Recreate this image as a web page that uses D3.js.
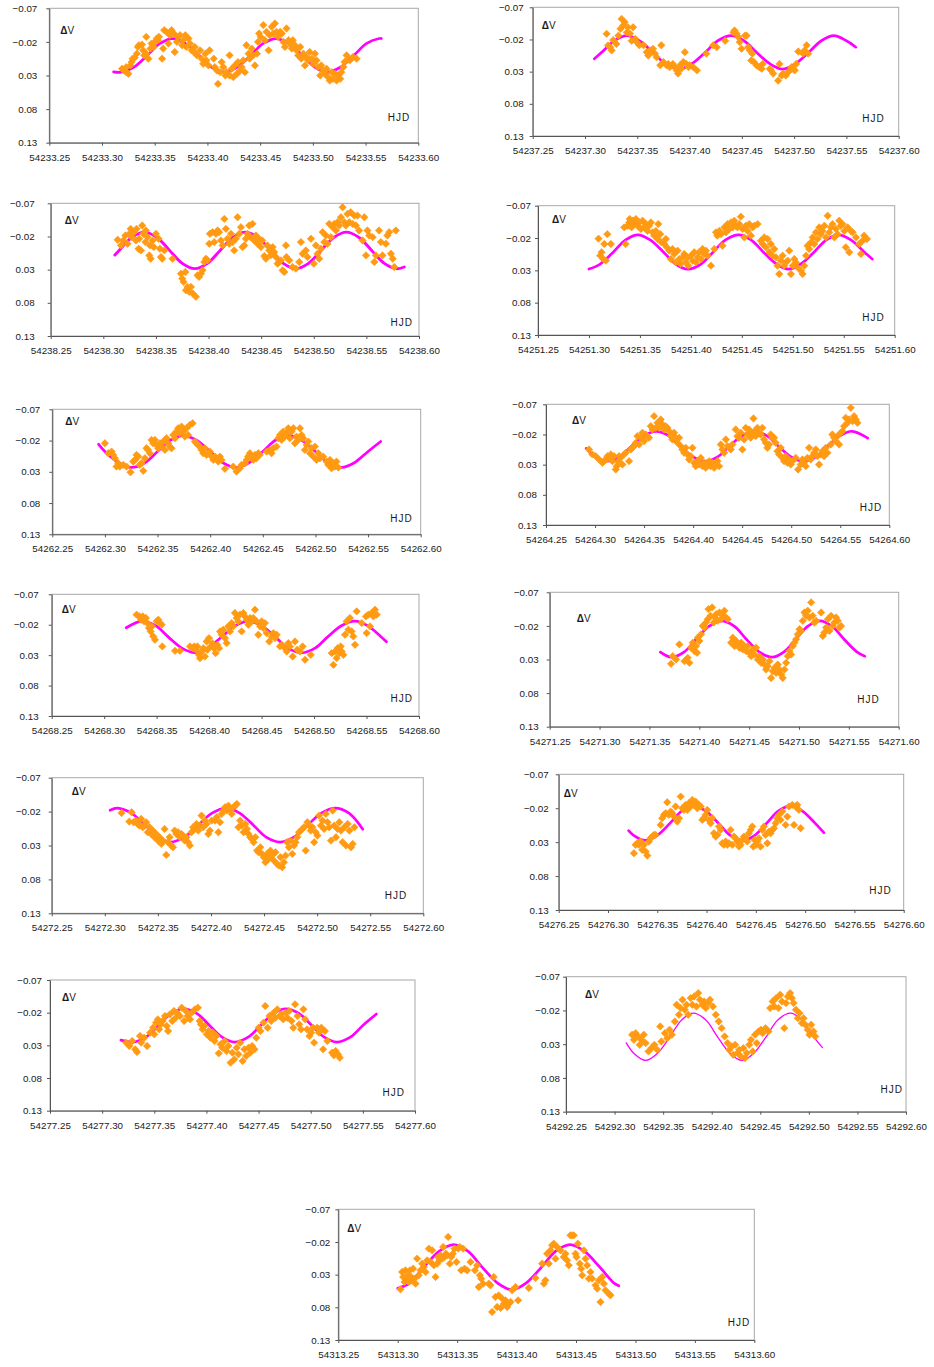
<!DOCTYPE html>
<html><head><meta charset="utf-8">
<script src="https://cdn.jsdelivr.net/npm/d3@7"></script>
<style>body{margin:0;background:#fff}svg{display:block}text{font-family:"Liberation Sans",Arial,sans-serif}</style>
</head><body><svg id="c" width="934" height="1367"></svg>
<script>
const days=[54233,54237,54238,54251,54262,54264,54268,54271,54272,54276,54277,54292,54313];
const xTicks=[0.25,0.30,0.35,0.40,0.45,0.50,0.55,0.60];
const yTicks=[-0.07,-0.02,0.03,0.08,0.13];

const fit1=[[.311,.0245],[.318,.025],[.330,.0177],[.343,0],[.355,-.0177],[.367,-.025],[.379,-.0177],[.392,0],[.404,.0177],[.416,.025],[.428,.0177],[.441,0],[.453,-.0177],[.465,-.025],[.477,-.0177],[.490,0],[.502,.0177],[.514,.025],[.526,.0177],[.539,0],[.551,-.0177],[.563,-.025],[.565,-.025]];
const fit2=[[.309,.010],[.316,0],[.328,-.018],[.340,-.026],[.352,-.018],[.365,0],[.377,.018],[.390,.026],[.402,.018],[.415,0],[.427,-.018],[.440,-.026],[.452,-.018],[.464,0],[.477,.018],[.489,.026],[.501,.018],[.514,0],[.526,-.018],[.538,-.026],[.550,-.018],[.559,-.008]];
const fit3=[[.311,.008],[.315,.001],[.327,-.0185],[.339,-.0265],[.351,-.0185],[.363,.001],[.375,.0205],[.387,.0285],[.399,.0205],[.411,.001],[.423,-.0185],[.435,-.0265],[.447,-.0185],[.459,.001],[.471,.0205],[.483,.0285],[.495,.0205],[.507,.001],[.519,-.0185],[.531,-.0265],[.543,-.0185],[.555,.001],[.567,.0205],[.579,.0285],[.586,.026]];
const fit4=[[.300,.028],[.311,.0202],[.324,.0015],[.336,-.0172],[.348,-.025],[.360,-.0172],[.373,.0015],[.385,.0202],[.397,.028],[.410,.0202],[.422,.0015],[.434,-.0172],[.447,-.025],[.459,-.0172],[.471,.0015],[.484,.0202],[.496,.028],[.508,.0202],[.521,.0015],[.533,-.0172],[.545,-.025],[.557,-.0172],[.570,.0015],[.578,.0125]];
const fit5=[[.294,-.014],[.300,-.0025],[.313,.0155],[.325,.023],[.338,.0155],[.350,-.0025],[.362,-.0205],[.375,-.028],[.387,-.0205],[.400,-.0025],[.412,.0155],[.425,.023],[.437,.0155],[.450,-.0025],[.462,-.0205],[.475,-.028],[.487,-.0205],[.500,-.0025],[.512,.0155],[.525,.023],[.537,.0155],[.550,-.0025],[.562,-.0185]];
const fit6=[[.291,.003],[.300,.017],[.312,.0243],[.325,.017],[.337,-.0005],[.350,-.018],[.362,-.0253],[.375,-.018],[.387,-.0005],[.400,.017],[.412,.0243],[.425,.017],[.437,-.0005],[.450,-.018],[.462,-.0253],[.475,-.018],[.487,-.0005],[.500,.017],[.512,.0243],[.525,.017],[.537,-.0005],[.550,-.018],[.562,-.0253],[.578,-.014]];
const fit7=[[.321,-.015],[.336,-.026],[.349,-.0184],[.361,0],[.374,.0184],[.387,.026],[.399,.0184],[.412,0],[.425,-.0184],[.437,-.026],[.450,-.0184],[.463,0],[.475,.0184],[.488,.026],[.501,.0184],[.513,0],[.526,-.0184],[.539,-.026],[.551,-.0184],[.564,0],[.569,.008]];
const fit8=[[.361,.019],[.372,.0265],[.385,.0186],[.397,-.0005],[.410,-.0196],[.422,-.0275],[.435,-.0196],[.447,-.0005],[.460,.0186],[.473,.0265],[.485,.0186],[.497,-.0005],[.509,-.0196],[.521,-.0275],[.533,-.0196],[.545,-.0005],[.558,.0186],[.566,.025]];
const fit9=[[.305,-.022],[.312,-.025],[.325,-.0177],[.338,0],[.350,.0177],[.362,.025],[.375,.0177],[.388,0],[.401,-.0177],[.415,-.025],[.427,-.0177],[.440,0],[.452,.0177],[.465,.025],[.478,.0177],[.491,0],[.504,-.0177],[.517,-.025],[.530,-.0177],[.543,.006]];
const fit10=[[.321,.013],[.326,.020],[.338,.0275],[.350,.020],[.363,.002],[.375,-.016],[.387,-.0235],[.399,-.016],[.412,.002],[.424,.020],[.437,.0275],[.449,.020],[.461,.002],[.473,-.016],[.485,-.0235],[.497,-.016],[.510,.002],[.519,.016]];
const fit11=[[.318,.022],[.330,.025],[.342,.0175],[.354,-.0005],[.366,-.0185],[.378,-.026],[.391,-.0185],[.403,-.0005],[.415,.0175],[.427,.025],[.440,.0175],[.452,-.0005],[.464,-.0185],[.476,-.026],[.489,-.0185],[.501,-.0005],[.513,.0175],[.525,.025],[.538,.0175],[.550,-.0005],[.563,-.018]];
const fit12=[[.312,.028],[.320,.0437],[.332,.054],[.344,.0437],[.357,.019],[.369,-.0058],[.381,-.016],[.394,-.0058],[.406,.019],[.419,.0437],[.431,.054],[.443,.0437],[.456,.019],[.468,-.0058],[.481,-.016],[.493,-.0058],[.505,.019],[.514,.035]];
const fit13=[[.300,.051],[.310,.043],[.322,.0185],[.335,-.0059],[.347,-.016],[.359,-.0059],[.371,.0185],[.384,.0429],[.396,.053],[.408,.0429],[.421,.0185],[.433,-.0059],[.445,-.016],[.457,-.0059],[.470,.0185],[.482,.0429],[.486,.047]];

const pts1=[[.319,.020],[.321,.0225],[.323,.025],[.325,.0275],[.323,.0175],[.327,.015],[.328,.010],[.329,.005],[.331,.0035],[.333,-.0025],[.334,-.0125],[.335,-.015],[.338,-.016],[.339,-.0075],[.340,0],[.342,-.0025],[.342,-.0275],[.344,.005],[.346,-.010],[.347,-.0175],[.349,-.0125],[.350,-.020],[.352,-.025],[.353,-.0225],[.354,-.0275],[.357,.005],[.358,-.010],[.359,-.0375],[.361,-.035],[.363,-.0175],[.3645,-.030],[.366,-.0375],[.368,-.0325],[.369,-.005],[.371,-.020],[.372,-.0275],[.374,-.030],[.376,-.015],[.377,-.0225],[.379,-.030],[.380,-.0125],[.382,-.025],[.3835,-.0175],[.385,-.0075],[.387,-.005],[.388,-.0125],[.390,0],[.393,-.0075],[.3945,.005],[.396,.0125],[.398,-.0025],[.399,.0075],[.401,.015],[.402,-.0075],[.406,.005],[.407,.0175],[.409,.0225],[.410,.0425],[.412,.025],[.4135,.010],[.415,.0175],[.417,.030],[.418,.025],[.421,0],[.421,.030],[.423,.020],[.4245,.0325],[.426,.015],[.428,.0275],[.429,.010],[.431,.0225],[.4325,.0175],[.434,.0075],[.4355,.025],[.437,-.015],[.439,-.0025],[.440,.005],[.442,-.010],[.4435,0],[.445,.015],[.447,-.0025],[.448,-.020],[.449,-.0325],[.4505,-.0275],[.453,-.045],[.4545,-.0225],[.456,-.035],[.458,-.0075],[.459,-.030],[.461,-.0425],[.4625,-.0325],[.464,-.0475],[.4655,-.035],[.467,-.0275],[.469,-.035],[.4705,-.0325],[.472,-.020],[.4735,-.0125],[.475,-.040],[.477,-.0225],[.478,-.0175],[.480,-.010],[.481,-.0225],[.483,-.015],[.4845,-.0075],[.486,0],[.488,-.0125],[.489,.005],[.491,-.0025],[.4925,.015],[.494,.0025],[.4955,.0075],[.497,-.005],[.499,.005],[.5005,.0125],[.502,-.0025],[.5035,.0075],[.505,.0175],[.507,.030],[.508,.015],[.510,.0225],[.5115,.0275],[.513,.020],[.5145,.0325],[.516,.0375],[.518,.025],[.519,.035],[.521,.0275],[.5225,.0375],[.524,.030],[.526,.035],[.527,.025],[.529,.0175],[.530,.010],[.532,0],[.5335,.005],[.535,.0075],[.538,.0025],[.5415,.005]];
const pts2=[[.3207,-.0288],[.322,-.0107],[.324,-.008],[.3255,-.003],[.327,-.019],[.330,-.013],[.332,-.026],[.334,-.0366],[.335,-.052],[.3366,-.042],[.338,-.047],[.340,-.031],[.341,-.039],[.343,-.029],[.3446,-.018],[.346,-.039],[.348,-.021],[.3494,-.016],[.352,-.011],[.356,-.011],[.359,-.0003],[.3605,.005],[.362,-.003],[.3637,-.0003],[.365,-.0055],[.367,.002],[.3685,.0075],[.372,.020],[.373,-.011],[.375,.015],[.378,.020],[.3796,.018],[.381,.023],[.384,.018],[.386,.023],[.3876,.028],[.389,.033],[.391,.020],[.392,.0256],[.394,.015],[.3955,-.0003],[.397,.018],[.399,.023],[.400,.020],[.4035,.023],[.407,.028],[.416,.002],[.4226,-.011],[.426,-.008],[.434,-.018],[.442,-.031],[.443,-.034],[.445,-.029],[.4465,-.024],[.448,-.016],[.4497,-.0055],[.453,-.026],[.4545,-.026],[.456,-.008],[.4576,-.003],[.459,.0126],[.460,.002],[.4615,.015],[.464,.020],[.4666,.023],[.469,.0256],[.470,.018],[.4767,.0256],[.478,.028],[.480,.033],[.4847,.044],[.486,.018],[.488,.036],[.4895,.033],[.492,.036],[.494,.031],[.496,.028],[.4975,.023],[.499,.0256],[.5006,.028],[.502,.018],[.504,-.0013],[.5086,.002],[.510,-.003],[.512,-.011],[.5134,.002]];
const pts3=[[.3136,-.015],[.3167,-.0065],[.319,-.014],[.321,-.0215],[.323,-.009],[.3247,-.024],[.326,-.0315],[.327,-.019],[.3294,-.0265],[.331,-.014],[.3316,-.0315],[.3335,-.0015],[.334,-.0165],[.3357,.001],[.337,-.0365],[.338,-.024],[.340,-.0115],[.3405,-.029],[.342,-.019],[.3437,.0085],[.3443,-.0065],[.345,.0135],[.3468,-.014],[.348,-.004],[.350,-.024],[.3525,-.0165],[.3538,-.0015],[.3548,.011],[.356,.0135],[.358,.001],[.3658,.0135],[.3738,.036],[.375,.0435],[.3763,.0485],[.378,.0335],[.3785,.061],[.380,.056],[.3817,.0635],[.3833,.056],[.385,.066],[.388,.071],[.3896,.0385],[.391,.041],[.3928,.036],[.3943,.031],[.396,.0185],[.3975,.0135],[.399,.016],[.4007,-.009],[.4013,-.024],[.4038,-.0265],[.4054,-.0115],[.407,-.024],[.4086,-.029],[.410,-.0265],[.4118,-.014],[.4134,-.0065],[.415,-.0465],[.4165,-.0315],[.418,-.0165],[.4197,-.009],[.4213,-.024],[.4229,-.0115],[.4244,.001],[.426,-.0165],[.4276,-.049],[.4292,-.024],[.4308,-.034],[.4323,-.004],[.434,-.0065],[.4355,-.0165],[.437,-.024],[.4387,-.0365],[.440,-.019],[.4418,-.039],[.4434,-.014],[.445,-.0215],[.4466,-.009],[.448,-.0165],[.4498,-.004],[.451,-.014],[.453,.0095],[.4545,.0135],[.456,-.0065],[.4577,.001],[.459,.0085],[.461,-.004],[.4624,.0035],[.464,.011],[.4656,.021],[.467,.0185],[.4688,.016],[.4704,.031],[.472,.0335],[.4735,-.0065],[.474,.011],[.4767,.016],[.4798,.026],[.483,.0285],[.4862,.0185],[.4878,-.0115],[.4894,.006],[.4925,.001],[.494,.011],[.4973,-.0165],[.500,.021],[.502,-.0065],[.5036,.006],[.5052,.0135],[.5068,-.0015],[.5084,-.0265],[.510,-.0115],[.5115,-.0215],[.513,-.009],[.5147,-.039],[.5163,-.019],[.5179,-.034],[.5195,-.039],[.521,-.029],[.5226,-.0415],[.5242,-.0365],[.5258,-.049],[.5274,-.064],[.529,-.0415],[.5305,-.0365],[.532,-.054],[.5337,-.0415],[.535,-.0565],[.5369,-.039],[.5385,-.0515],[.540,-.0365],[.5416,-.0515],[.543,-.029],[.5464,-.014],[.548,-.049],[.5496,.0085],[.551,-.029],[.5527,-.0215],[.556,-.019],[.5575,.0185],[.559,.0085],[.562,-.029],[.5638,-.0115],[.5653,.0085],[.5685,-.009],[.570,-.0215],[.5717,-.0265],[.5733,.006],[.575,.0135],[.5765,.026],[.578,-.029]];
const pts4=[[.3094,-.019],[.311,.0073],[.3124,.002],[.314,.0125],[.315,-.0107],[.3166,.015],[.318,-.026],[.3215,-.0107],[.3346,-.0365],[.336,-.0107],[.3379,-.039],[.3395,-.0442],[.340,-.0494],[.3418,-.0365],[.3428,-.0468],[.3444,-.0416],[.346,-.0494],[.3477,-.039],[.3493,-.0442],[.351,-.034],[.3526,-.0468],[.3542,-.0365],[.356,-.0416],[.3575,-.031],[.359,-.039],[.3608,-.0442],[.3624,-.0288],[.364,-.0236],[.3657,-.031],[.3673,-.0185],[.368,-.0416],[.370,-.026],[.3712,-.0133],[.3739,-.0107],[.3755,-.0185],[.3765,-.0056],[.3788,-.0004],[.3804,.0125],[.382,-.003],[.3837,.0047],[.3853,.0176],[.387,-.0004],[.3886,.0125],[.390,.020],[.3919,.0099],[.3935,.0047],[.395,.0176],[.3968,.0099],[.3974,.0228],[.400,.0073],[.4017,.015],[.4033,.002],[.405,.0176],[.4066,.0099],[.408,.002],[.4099,.0125],[.4115,-.003],[.413,.0047],[.4148,-.0004],[.4164,.0073],[.4197,.0228],[.423,-.003],[.4246,-.0288],[.426,-.0236],[.4279,-.031],[.4295,-.026],[.431,-.0081],[.4328,-.0365],[.4344,-.0288],[.436,-.0416],[.4377,-.034],[.4393,-.0442],[.441,-.0365],[.4426,-.0468],[.444,-.039],[.4458,-.0365],[.4475,-.0416],[.449,-.053],[.4508,-.034],[.4524,-.021],[.454,-.039],[.4557,-.031],[.4573,-.0416],[.459,-.0236],[.4606,-.0365],[.4622,-.039],[.4655,-.0416],[.4687,-.0159],[.4704,-.0107],[.472,-.021],[.4736,-.0056],[.4753,-.0185],[.477,.002],[.4785,-.0107],[.480,.0073],[.4818,-.003],[.4835,.0099],[.485,.0228],[.4867,.0357],[.4884,.015],[.490,.0073],[.4916,.0228],[.4933,.0176],[.495,.015],[.4965,-.0004],[.4982,.0357],[.500,.0228],[.5015,.0125],[.503,.0176],[.5047,.0254],[.508,.0305],[.5096,.0357],[.5113,.0228],[.513,.0073],[.5145,-.0081],[.516,-.003],[.5178,-.0133],[.5195,-.021],[.521,-.0107],[.5227,-.0288],[.5243,-.0185],[.526,-.0365],[.5276,-.026],[.529,-.031],[.531,-.039],[.5325,-.021],[.5342,-.0545],[.5358,-.0288],[.5374,-.0365],[.539,-.0416],[.5407,-.021],[.5423,-.034],[.544,-.026],[.5456,-.0468],[.547,-.039],[.5489,-.0416],[.5505,-.031],[.552,-.0056],[.5538,-.0365],[.5554,.002],[.557,-.031],[.5587,-.0288],[.562,-.021],[.5652,-.0107],[.5669,.0047],[.5685,-.0159],[.570,-.0236],[.5728,-.0185]];
const pts5=[[.300,-.0157],[.3031,.0003],[.3063,-.0024],[.3079,.003],[.3095,.0083],[.311,.0216],[.3126,.0163],[.3142,.0216],[.3174,.019],[.3205,.0216],[.3243,.0307],[.3269,.0136],[.3285,.011],[.330,.003],[.3316,.0056],[.333,.019],[.3348,.0163],[.3364,.0285],[.338,.0083],[.3395,-.0077],[.341,-.005],[.3427,.0003],[.3443,-.021],[.3459,-.0157],[.3475,-.021],[.349,-.013],[.3506,-.0077],[.3522,-.0157],[.354,-.0104],[.3554,-.0184],[.357,-.005],[.3585,-.0237],[.360,-.0157],[.3617,-.0104],[.3633,-.0077],[.3649,-.029],[.3665,-.0237],[.368,-.0344],[.3696,-.0397],[.3712,-.0317],[.3728,-.0424],[.3744,-.0344],[.376,-.0264],[.3776,-.0397],[.379,-.029],[.3807,-.045],[.3833,-.0477],[.3855,-.0184],[.387,-.0157],[.3886,-.013],[.390,-.0104],[.3918,-.005],[.3934,.0003],[.395,-.0077],[.3966,.003],[.3997,-.0024],[.4013,.0056],[.403,.011],[.4045,.0056],[.4061,.0083],[.4077,.0136],[.4092,.0056],[.4108,.011],[.414,.0253],[.4219,.0216],[.425,.0296],[.4282,.0243],[.4298,.019],[.433,.0163],[.4346,.011],[.436,.0056],[.4377,.0003],[.4393,.0056],[.441,.011],[.4425,.003],[.444,.0083],[.4457,.0003],[.447,.003],[.4536,-.0024],[.4567,-.005],[.4583,.0003],[.460,-.0077],[.463,-.0104],[.4647,-.0237],[.4663,-.029],[.4678,-.021],[.4694,-.0344],[.471,-.0264],[.4726,-.0317],[.4742,-.0397],[.4757,-.0237],[.4773,-.0344],[.479,-.0397],[.4805,-.0157],[.482,-.0264],[.4837,-.021],[.4853,-.0397],[.4868,-.029],[.4884,-.0237],[.490,-.005],[.4916,-.013],[.4932,-.0184],[.4948,.0003],[.4963,-.0077],[.4979,.0056],[.4995,-.0104],[.5011,.011],[.5027,.0003],[.5043,.0083],[.5074,.0056],[.5106,.0136],[.5122,.019],[.5138,.011],[.5153,.0243],[.517,.0163],[.5185,.0216],[.520,.0136],[.5217,.0232]];
const pts6=[[.2939,.0049],[.2973,.0131],[.3007,.0159],[.3041,.0214],[.3075,.027],[.3092,.0242],[.311,.0214],[.3126,.0159],[.3143,.0187],[.316,.0131],[.3177,.0242],[.3194,.0159],[.3211,.038],[.3221,.0325],[.3235,.0242],[.3245,.0159],[.3262,.0187],[.3279,.0297],[.3296,.0131],[.3313,.0104],[.3347,.0242],[.3364,.0049],[.338,.0021],[.3398,-.0007],[.3415,-.0062],[.3432,-.0172],[.3449,-.0034],[.3466,-.0145],[.3483,-.0228],[.350,-.009],[.3517,-.02],[.3534,-.0172],[.355,-.0145],[.3568,-.0338],[.3585,-.0283],[.3602,-.0504],[.3619,-.031],[.3636,-.0393],[.3653,-.031],[.367,-.0449],[.3687,-.0366],[.3704,-.0283],[.372,-.0338],[.3738,-.031],[.3755,-.0255],[.3772,-.0172],[.3789,-.0117],[.3806,-.0228],[.3823,-.0145],[.384,-.0062],[.3857,-.0145],[.3874,-.0007],[.389,.0049],[.3908,.0104],[.3925,.0021],[.3942,.0131],[.3959,.0214],[.3976,.0159],[.3993,.0021],[.401,.027],[.4027,.0325],[.4044,.0242],[.406,.0297],[.4078,.0187],[.4095,.0325],[.4112,.027],[.4129,.0352],[.4146,.0297],[.4163,.0242],[.418,.0325],[.4197,.027],[.4214,.0352],[.423,.0297],[.4248,.0242],[.4265,.0325],[.4282,-.0034],[.4299,.0049],[.4316,.0104],[.4333,-.0117],[.435,-.0007],[.4384,.0049],[.440,-.0034],[.4434,-.0283],[.4451,-.0172],[.4468,-.0145],[.4485,-.0228],[.4502,.0049],[.4519,-.0117],[.4536,-.031],[.4553,-.02],[.457,-.0283],[.4587,-.0145],[.4604,-.0228],[.4615,-.0465],[.4628,-.0255],[.4638,-.0172],[.4655,-.031],[.4672,-.0228],[.4689,-.02],[.4706,-.031],[.4723,-.0117],[.474,-.0062],[.4757,.0021],[.4774,-.0034],[.4791,-.02],[.4808,-.0145],[.4825,-.0145],[.4842,-.0062],[.4859,.0076],[.4876,.0131],[.4893,.0021],[.491,.0187],[.4927,.0242],[.4944,.0159],[.4961,.027],[.4978,.0214],[.4995,.0297],[.5012,.0242],[.5046,.0187],[.507,.038],[.5097,.0297],[.5114,.0214],[.513,.027],[.5148,.0325],[.5165,.0187],[.5182,.0021],[.5199,.0214],[.5216,.0159],[.5233,.0104],[.525,.0049],[.5267,.0159],[.5284,.0297],[.530,.0131],[.5318,.0076],[.5335,.0159],[.5352,.0021],[.5369,.0104],[.5403,-.0034],[.542,-.02],[.5437,-.0145],[.5454,-.009],[.5471,-.0172],[.5488,-.0034],[.5505,-.0228],[.5522,-.0255],[.5539,-.0338],[.5556,-.0476],[.5573,-.0393],[.559,-.0449],[.5607,-.0642],[.5624,-.042],[.5641,-.0504],[.5658,-.0449],[.5675,-.0393]];
const pts7=[[.3309,-.0365],[.3335,-.0337],[.3351,-.0282],[.3367,-.0337],[.3379,-.0255],[.3398,-.031],[.3411,-.0227],[.3427,-.0145],[.3443,-.009],[.3456,-.0173],[.3468,-.0008],[.3484,.0047],[.350,-.0255],[.3516,-.0282],[.3532,-.0227],[.3548,-.020],[.3554,.0157],[.3675,.0229],[.3722,.0229],[.3818,.0157],[.3843,.0185],[.3859,.0157],[.3875,.0212],[.3888,.0157],[.3903,.0295],[.3913,.035],[.3929,.024],[.3945,.0185],[.396,.0322],[.3976,.0075],[.3983,.0212],[.3999,.002],[.4015,.0157],[.403,.0102],[.4046,.0185],[.4062,.0267],[.4078,.013],[.4094,.0185],[.4104,-.009],[.412,-.0035],[.4135,-.0118],[.4151,.002],[.4167,.0102],[.4183,-.0173],[.4199,-.009],[.4215,-.0227],[.423,-.0173],[.4246,-.0392],[.4262,-.031],[.4278,-.0255],[.4294,-.0365],[.431,-.009],[.4326,-.0392],[.4342,-.0337],[.4358,-.0282],[.4374,-.020],[.439,-.031],[.4405,-.0255],[.4421,-.031],[.4437,-.0447],[.4453,-.0255],[.4469,-.0035],[.4485,-.0173],[.450,-.0255],[.4517,-.0145],[.4532,-.0227],[.4548,-.0063],[.4574,.0075],[.4596,-.0008],[.4612,-.0063],[.4628,.002],[.4644,-.0035],[.4675,.0157],[.4691,.013],[.4723,.0185],[.4739,.024],[.4755,.0102],[.4771,.0157],[.4796,.0322],[.4818,.0075],[.484,.0212],[.4866,.024],[.4891,.0157],[.4914,.0377],[.4968,.0295],[.5168,.0267],[.5184,.0459],[.520,.024],[.5215,.035],[.5225,.0185],[.5241,.0267],[.5254,.0157],[.5263,.024],[.5279,.0295],[.5295,-.0035],[.531,-.0255],[.5327,-.0118],[.5342,-.031],[.5358,-.009],[.5374,-.0008],[.539,.013],[.5406,-.042],[.5454,-.0227],[.5495,-.0337],[.5501,-.0063],[.5517,-.0365],[.5533,-.0173],[.5549,-.0392],[.5565,-.0337],[.5581,-.0447],[.5597,-.0365]];
const pts8=[[.3717,.0365],[.3734,.025],[.3767,.030],[.380,.0075],[.3851,.0325],[.3884,.0275],[.3901,.035],[.3918,.0125],[.3935,.005],[.3951,.0175],[.3968,.010],[.3978,.020],[.3985,-.0025],[.4001,.0025],[.4018,-.0075],[.4035,-.020],[.4052,-.0175],[.4068,-.025],[.4085,-.030],[.4092,-.045],[.4112,-.035],[.4129,-.0475],[.4145,-.025],[.4159,-.0325],[.4169,-.0375],[.4185,-.0275],[.4202,-.040],[.4219,-.030],[.4236,-.035],[.4252,-.0425],[.4269,-.0325],[.4286,-.030],[.4319,.005],[.4336,-.0025],[.4353,.010],[.4369,.0025],[.4386,.0075],[.4403,.0125],[.442,.005],[.4436,.015],[.4453,.010],[.447,.0175],[.4486,.010],[.4503,.020],[.452,.025],[.4536,.015],[.4553,.0225],[.457,.0125],[.4587,.030],[.4603,.025],[.462,.035],[.4637,.030],[.4653,.0375],[.467,.045],[.4687,.040],[.4704,.0325],[.472,.0575],[.4737,.0475],[.4754,.0425],[.477,.050],[.4787,.0375],[.4804,.045],[.4821,.0525],[.4837,.0575],[.4854,.045],[.4871,.035],[.4887,.025],[.4904,.0175],[.4921,.0225],[.4938,.010],[.4954,.005],[.4971,0],[.4988,-.0075],[.5005,-.015],[.5021,-.0125],[.5038,-.0275],[.5055,-.040],[.5071,-.035],[.5088,-.0425],[.5105,-.0325],[.5122,-.055],[.5138,-.035],[.5155,-.025],[.5172,-.0275],[.5222,-.040],[.5239,-.005],[.5255,-.010],[.5272,-.0175],[.5289,-.030],[.5305,-.0125],[.5322,-.035],[.5339,-.020],[.5356,-.025],[.5372,-.0325],[.5389,-.0275],[.5406,-.0175],[.5422,-.020]];
const pts9=[[.3158,-.018],[.3231,-.0053],[.3253,-.019],[.3272,-.0043],[.3294,-.0067],[.331,-.0018],[.3326,.0006],[.3342,-.0092],[.3358,.0031],[.3373,.0006],[.3389,-.0043],[.3405,.0105],[.3421,.0031],[.3437,.013],[.3453,.008],[.3468,.0178],[.3484,.013],[.350,.0228],[.3516,.0178],[.3532,.0277],[.3547,.0228],[.3563,.0056],[.3579,.0439],[.3595,.0252],[.3611,.0178],[.3627,.0301],[.3642,.0326],[.3658,.008],[.3674,.013],[.369,.0105],[.3706,.0178],[.3722,.013],[.3737,.0154],[.3753,.0228],[.3769,.0178],[.3785,.0252],[.3801,.0301],[.3816,.0105],[.3832,.0031],[.3848,.0056],[.3864,-.0018],[.388,.008],[.3896,.0006],[.3911,-.0141],[.3927,.0031],[.3943,-.0067],[.3959,-.0018],[.3975,.013],[.399,.008],[.4006,-.0067],[.4038,-.0067],[.4054,-.0116],[.407,.0105],[.4085,-.0043],[.4101,-.0166],[.4117,-.0215],[.4133,-.0264],[.4149,-.0215],[.4165,-.0288],[.418,-.0239],[.4196,-.0166],[.4212,-.0264],[.4228,-.0288],[.4244,-.0313],[.4259,.0031],[.4275,-.0067],[.4291,.0006],[.4307,.0105],[.4323,-.0018],[.4339,.0056],[.4354,.013],[.437,.0178],[.4386,.0203],[.4402,.0252],[.4418,.0178],[.4434,.0375],[.4449,.040],[.4465,.0326],[.4481,.0424],[.4497,.0473],[.4513,.0547],[.4528,.0424],[.4544,.0498],[.456,.0375],[.4576,.0449],[.4592,.0522],[.4608,.040],[.4623,.0571],[.4639,.0596],[.4655,.0473],[.4671,.0621],[.4687,.0547],[.4703,.0449],[.4718,.0252],[.4734,.0326],[.475,.0228],[.4766,.0424],[.4782,.0301],[.4797,.0252],[.4813,.0178],[.4829,.0105],[.4861,.0056],[.4877,.0031],[.4892,.0375],[.4908,-.0043],[.4924,.0006],[.494,.008],[.4956,.0031],[.4972,.0252],[.4987,.0105],[.5003,.0154],[.5019,-.0141],[.5035,.0006],[.5051,-.0067],[.5066,.0056],[.5082,-.0166],[.5098,-.0043],[.5114,.0031],[.513,.0228],[.5146,-.0215],[.5161,.0006],[.5177,.0178],[.5193,.0056],[.5209,-.0043],[.5225,.008],[.524,.0252],[.5256,.0031],[.5272,.0301],[.5288,-.0018],[.5304,.008],[.532,.0326],[.5335,.0277],[.5351,.0031]];
const pts10=[[.3263,.0463],[.328,.034],[.3297,.0316],[.3314,.034],[.3331,.0291],[.3348,.0414],[.3365,.034],[.3382,.0439],[.3399,.0498],[.3415,.0291],[.3432,.0242],[.3449,.0218],[.3466,.0193],[.3483,.0193],[.3534,.0046],[.355,-.0053],[.3568,-.0102],[.3585,-.0126],[.3601,-.0288],[.3618,-.0102],[.3635,-.0151],[.3652,-.0126],[.3669,-.0077],[.3686,-.0225],[.3703,-.0003],[.372,-.0053],[.3737,-.0372],[.3754,-.020],[.3771,-.0175],[.3787,-.0249],[.3804,-.0175],[.3821,-.0274],[.3838,-.0225],[.3855,-.0323],[.3872,-.0249],[.3889,-.0298],[.3906,-.020],[.3923,-.0249],[.394,-.0225],[.3957,-.0028],[.3973,-.0053],[.399,-.0102],[.4007,-.0175],[.4024,-.0028],[.4041,.0021],[.4058,-.0053],[.4075,.0169],[.4092,.0218],[.4109,.0193],[.4126,.007],[.4143,.0119],[.4159,.0316],[.4176,.034],[.4193,.0291],[.421,.034],[.4227,.0316],[.4244,.0119],[.4261,.034],[.4278,.0218],[.4295,.0242],[.4312,.0291],[.4329,.0365],[.4345,.034],[.4362,.0267],[.4379,.0218],[.4396,.0242],[.4413,.0291],[.443,.0169],[.4447,.0119],[.4464,.007],[.4474,.0365],[.4487,.0267],[.4501,.034],[.4515,.0291],[.4531,.0242],[.4548,.0365],[.4565,.0119],[.4582,.007],[.4599,.0193],[.4616,.0316],[.4633,.0144],[.465,.0169],[.4667,.0119],[.4684,.0095],[.4701,.0021],[.4717,-.0053],[.4734,-.0102],[.4751,-.0028],[.4768,-.0151],[.4802,.0046],[.4819,-.0077],[.4836,-.0225],[.487,-.0249],[.4887,.0046],[.4903,-.0225],[.492,-.0249],[.4937,-.0175],[.4954,.0095]];
const pts11=[[.3231,.0259],[.326,.031],[.3288,.0234],[.3317,.0361],[.3334,.0402],[.3363,.0157],[.3374,.0259],[.3403,.0183],[.3431,.031],[.346,.0106],[.3489,.003],[.350,.0132],[.3517,-.0047],[.3534,-.0098],[.3546,.0055],[.3563,-.0021],[.358,-.0072],[.3603,-.0149],[.362,.0004],[.3632,.0081],[.3649,-.0174],[.3672,-.0072],[.3689,-.0226],[.3706,-.0123],[.3717,-.020],[.3746,-.0149],[.3763,-.0277],[.3786,-.0072],[.3803,-.0226],[.382,-.0149],[.3843,-.0098],[.386,-.020],[.3889,-.0251],[.3918,-.0277],[.3935,-.0072],[.3946,-.0021],[.3963,.0055],[.3981,.0004],[.4003,.0132],[.4021,.0081],[.4038,.0183],[.4061,.0106],[.4078,.0234],[.4095,.0157],[.4118,.0422],[.4135,.0285],[.4152,.0336],[.4175,.0234],[.4192,.0387],[.421,.031],[.4232,.0565],[.4249,.0412],[.4267,.0514],[.429,.0336],[.4307,.0438],[.4324,.0259],[.4347,.054],[.4364,.0361],[.4381,.0463],[.4404,.0336],[.4421,.0412],[.4438,.031],[.4461,.0361],[.4478,.0183],[.4501,.003],[.4518,.0081],[.4547,-.0047],[.4564,-.0302],[.4587,.003],[.4604,-.0149],[.4621,-.0072],[.4644,-.020],[.4661,-.0123],[.4679,-.0251],[.4701,-.0149],[.4719,-.0174],[.4736,-.0098],[.4759,-.020],[.4776,-.0123],[.4793,-.0226],[.4816,-.0072],[.4833,.003],[.485,-.0328],[.4873,-.0149],[.489,-.0021],[.4907,.0055],[.493,-.0251],[.4947,-.0098],[.4965,.0055],[.4987,.0157],[.5005,.0106],[.5022,.003],[.5033,.0259],[.5062,.003],[.5079,.0106],[.5102,.003],[.5119,.0361],[.5136,.0081],[.5159,.0234],[.5205,.0412],[.5222,.0453],[.5239,.0387],[.5262,.0438],[.5279,.0489]];
const pts12=[[.3181,.016],[.3199,.0235],[.3217,.0136],[.3241,.0185],[.3259,.0309],[.3277,.0235],[.3301,.016],[.332,.0284],[.3349,.0407],[.338,.0358],[.341,.0309],[.344,.0383],[.347,.0037],[.3482,.026],[.3518,.0136],[.3542,.021],[.3566,.0086],[.359,.016],[.362,-.0037],[.3639,-.0284],[.3663,-.0136],[.3681,-.0235],[.3699,-.0358],[.3723,-.021],[.3741,-.0284],[.3759,-.0136],[.3783,-.0383],[.3801,-.0284],[.3819,-.0407],[.3843,-.0259],[.3861,-.0457],[.3879,-.0358],[.3904,-.0284],[.3922,-.0333],[.394,-.0235],[.3964,-.0309],[.3982,-.0358],[.4012,-.0259],[.4042,-.0136],[.4072,-.0037],[.4102,.0062],[.4133,.0185],[.4163,.0284],[.4181,.0383],[.4205,.0333],[.4223,.0457],[.4241,.0309],[.4265,.0432],[.4283,.0383],[.4301,.0481],[.4325,.0358],[.4343,.0506],[.4361,.0432],[.4386,.0309],[.4404,.0235],[.4422,.0407],[.4446,.016],[.4464,.0284],[.4482,.0111],[.4506,.0086],[.4524,.0136],[.4554,.0062],[.4584,.0111],[.4602,-.0235],[.4627,-.0333],[.4645,-.0259],[.4663,-.0383],[.4687,-.0235],[.4705,-.0432],[.4723,-.0333],[.4747,.0062],[.4765,-.0309],[.4783,-.0407],[.4807,-.0457],[.4825,-.0383],[.4843,-.0309],[.4867,-.021],[.4886,-.0086],[.4904,-.016],[.4928,-.0012],[.4946,-.0086],[.4964,.0012],[.4988,.0086],[.5006,.016],[.5024,.0012],[.5048,.0111],[.5066,.0185]];
const pts13=[[.3023,.0524],[.3037,.0259],[.3046,.0336],[.3057,.0412],[.3065,.0234],[.3074,.0361],[.3085,.031],[.3093,.0412],[.3102,.0234],[.3113,.0336],[.3121,.0387],[.313,.0208],[.3141,.0361],[.315,.0438],[.3163,.0055],[.3177,.031],[.3192,.0234],[.3206,.0132],[.322,.0183],[.3234,.0259],[.3248,.0081],[.3262,-.0098],[.3276,.0106],[.329,-.0072],[.3304,.0157],[.3318,.0336],[.3332,.0132],[.334,.003],[.3351,.0081],[.336,.0004],[.3374,.0055],[.3382,-.0123],[.3393,.003],[.3405,-.0021],[.3416,.0004],[.3424,-.0277],[.3438,.0132],[.345,.003],[.3464,-.0021],[.3478,-.0098],[.3494,.0106],[.3508,-.0098],[.3522,-.0123],[.3534,.0234],[.355,-.0098],[.3562,.0208],[.3584,.0234],[.3612,.0106],[.3649,.0234],[.3668,.0157],[.3682,.0489],[.3691,.031],[.3702,.0361],[.3719,.0438],[.3766,.0438],[.378,.0463],[.3794,.0871],[.3808,.0336],[.3822,.0642],[.3836,.0795],[.385,.0616],[.3865,.081],[.3879,.0667],[.3893,.0744],[.3907,.0693],[.3921,.0795],[.3935,.0744],[.3949,.0718],[.3963,.054],[.3991,.0489],[.4013,.0693],[.4103,.0504],[.4159,.0351],[.4215,.0132],[.423,.0438],[.4243,.0387],[.4257,-.0021],[.4271,.0132],[.4285,-.0072],[.4299,-.0149],[.4313,-.0174],[.4327,.0055],[.4341,-.0123],[.4369,-.0072],[.4397,.003],[.4411,-.0021],[.4425,.0081],[.4439,.0157],[.4453,-.0302],[.4467,-.0302],[.4481,-.0302],[.4496,-.0021],[.4504,.003],[.4515,-.0174],[.4532,.0132],[.4543,.0208],[.4552,.031],[.4566,-.0072],[.458,.0055],[.4594,.0157],[.4608,.0361],[.4622,.0259],[.4636,.0361],[.4664,.0463],[.4678,.0514],[.4692,.0387],[.4706,.0718],[.472,.0336],[.4734,.0438],[.4748,.054],[.4776,.0591],[.479,.0616]];

const fits=[fit1,fit2,fit3,fit4,fit5,fit6,fit7,fit8,fit9,fit10,fit11,fit12,fit13];
const ptsAll=[pts1,pts2,pts3,pts4,pts5,pts6,pts7,pts8,pts9,pts10,pts11,pts12,pts13];

// layout: left, top, right, bottom, y-label gap, ΔV dx, ΔV dy, HJD right inset, HJD dy, line width
const layout=[
 [49.3,8.3,418.3,142.7,12,11,22,8,25,2.7],
 [532.7,7.3,898.7,136,9,9,18,14,18,2.7],
 [50.7,203.3,419,336,16,14,17,6,14,2.9],
 [538,205.7,894.7,335,7,14,14,10,18,2.7],
 [52.3,409.3,420.7,534.3,12,13,12,8,16,2.7],
 [546,404.3,889.3,525,9,26,16,7,18,2.7],
 [51.7,594.3,419,716,13,10,15,6,18,2.7],
 [549.7,592.3,898.7,726.7,11,27,26,19,27,2.7],
 [51.7,777.7,423.3,913.3,11,20,14,16,18,2.7],
 [558.7,774.3,903.7,910,10,5,19,12,20,2.7],
 [50,980,415,1110.7,8,12,17,10,18,2.7],
 [566,976.7,906,1111.7,6,19,18,3,22,1.3],
 [338.3,1209.3,754.3,1340,8,9,19,4,18,2.7]
];

const svg=d3.select('#c');
const diamond=d3.symbol().type(d3.symbolSquare).size(27)();

days.forEach((day,i)=>{
  const [l,t,r,b,gap,dvx,dvy,hr,hdy,lw]=layout[i];
  const g=svg.append('g');
  const x=d3.scaleLinear().domain([xTicks[0],xTicks[xTicks.length-1]]).range([l,r]);
  const y=d3.scaleLinear().domain([yTicks[0],yTicks[yTicks.length-1]]).range([t,b]);
  g.append('rect').attr('x',l).attr('y',t).attr('width',r-l).attr('height',b-t)
    .attr('fill','#fff').attr('stroke','#a8a8a8').attr('stroke-width',1);
  const xa=g.append('g').attr('transform',`translate(0,${b})`)
    .call(d3.axisBottom(x).tickValues(xTicks)
      .tickFormat(o=>day+'.'+String(Math.round(o*100)).padStart(2,'0'))
      .tickSize(3).tickSizeOuter(0).tickPadding(8));
  const ya=g.append('g').attr('transform',`translate(${l},0)`)
    .call(d3.axisLeft(y).tickValues(yTicks).tickFormat(d3.format('.2f'))
      .tickSize(3).tickSizeOuter(0).tickPadding(gap-3));
  [xa,ya].forEach(a=>{
    a.attr('font-family','"Liberation Sans",Arial,sans-serif');
    a.select('.domain').attr('stroke','#555');
    a.selectAll('.tick line').attr('stroke','#555');
    a.selectAll('.tick text').attr('fill','#1a1a1a');
  });
  xa.attr('font-size',9.8);
  ya.attr('font-size',9.8);
  const line=d3.line().x(d=>x(d[0])).y(d=>y(d[1])).curve(d3.curveCatmullRom.alpha(0.5));
  g.append('path').datum(fits[i]).attr('d',line).attr('fill','none')
    .attr('stroke','#ff00ff').attr('stroke-width',lw).attr('stroke-linecap','round');
  g.append('g').selectAll('path').data(ptsAll[i]).join('path')
    .attr('d',diamond)
    .attr('transform',d=>`translate(${x(d[0])},${y(d[1])}) rotate(45)`)
    .attr('fill','#ff9a12').attr('stroke','#ff9a12').attr('stroke-width',0.6).attr('stroke-linejoin','round');
  const dv=g.append('text').attr('x',l+dvx).attr('y',t+dvy).attr('dy','0.35em')
    .attr('font-size',10).attr('fill','#1a1a1a');
  dv.append('tspan').attr('font-weight','bold').text('Δ');
  dv.append('tspan').text('V');
  g.append('text').attr('x',r-hr).attr('y',b-hdy).attr('dy','0.35em')
    .attr('text-anchor','end').attr('font-size',10).attr('letter-spacing',1)
    .attr('fill','#1a1a1a').text('HJD');
});
</script></body></html>
